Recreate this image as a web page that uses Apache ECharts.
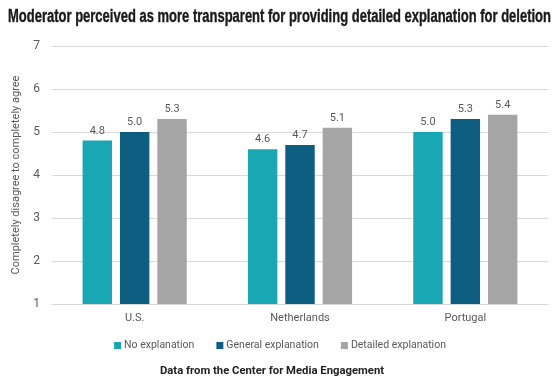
<!DOCTYPE html>
<html><head><meta charset="utf-8">
<script src="https://cdn.jsdelivr.net/npm/echarts@6/dist/echarts.min.js"></script>
<style>html,body{margin:0;padding:0;background:#fff}#c{width:560px;height:381px}</style>
</head><body><div id="c"></div>
<script>
const categories = ['U.S.', 'Netherlands', 'Portugal'];
const noExplanation = [4.8, 4.6, 5.0];
const generalExplanation = [5.0, 4.7, 5.3];
const detailedExplanation = [5.3, 5.1, 5.4];
const seriesNames = ['No explanation', 'General explanation', 'Detailed explanation'];
const colors = ['#1AA7B4', '#0D5E80', '#A5A5A5'];
const titleText = 'Moderator perceived as more transparent for providing detailed explanation for deletion';

const titleFont = 'bold 18px "Liberation Sans", Arial, sans-serif';
const cv = document.createElement('canvas').getContext('2d');
cv.font = titleFont;
const titleScale = 543 / cv.measureText(titleText).width;

const chart = echarts.init(document.getElementById('c'));
const lbl = {show: true, position: 'top', color: '#595959', fontSize: 11, fontFamily: 'Roboto, sans-serif', formatter: p => p.value.toFixed(1), distance: 4};
chart.setOption({
  animation: false,
  color: colors,
  graphic: [{
    type: 'text', x: 279.5, y: 17, scaleX: titleScale, scaleY: 1,
    style: {text: titleText, font: titleFont, fill: '#1a1a1a', align: 'center', verticalAlign: 'middle', stroke: '#1a1a1a', lineWidth: 0.4}
  }],
  title: [{
    text: 'Data from the Center for Media Engagement',
    left: 267, top: 361, textAlign: 'center',
    textStyle: {fontFamily: 'Roboto, sans-serif', fontWeight: 'bold', fontSize: 11.3, color: '#222'}
  }],
  legend: {
    data: seriesNames, top: 335, left: 'center', itemWidth: 7, itemHeight: 7, itemGap: 22,
    icon: 'rect',
    textStyle: {color: '#595959', fontSize: 10.5, fontFamily: 'Roboto, sans-serif', padding: [0, 0, 0, -2]}
  },
  grid: {left: 52, right: 12, top: 46, bottom: 77},
  xAxis: {
    type: 'category', data: categories,
    axisLine: {lineStyle: {color: '#D9D9D9'}}, axisTick: {show: false},
    axisLabel: {color: '#595959', fontSize: 11, margin: 9, fontFamily: 'Roboto, sans-serif'}
  },
  yAxis: {
    type: 'value', min: 1, max: 7, interval: 1,
    name: 'Completely disagree to completely agree', nameLocation: 'middle', nameGap: 30, nameRotate: 90,
    nameTextStyle: {color: '#595959', fontSize: 11, fontFamily: 'Roboto, sans-serif'},
    axisLine: {show: false}, axisTick: {show: false},
    axisLabel: {color: '#595959', fontSize: 12, margin: 12, fontFamily: 'Roboto, sans-serif'},
    splitLine: {lineStyle: {color: '#D9D9D9'}}
  },
  series: [
    {name: seriesNames[0], type: 'bar', data: noExplanation, label: lbl, barGap: '27%', barCategoryGap: '37%'},
    {name: seriesNames[1], type: 'bar', data: generalExplanation, label: lbl},
    {name: seriesNames[2], type: 'bar', data: detailedExplanation, label: lbl}
  ]
});
</script></body></html>
